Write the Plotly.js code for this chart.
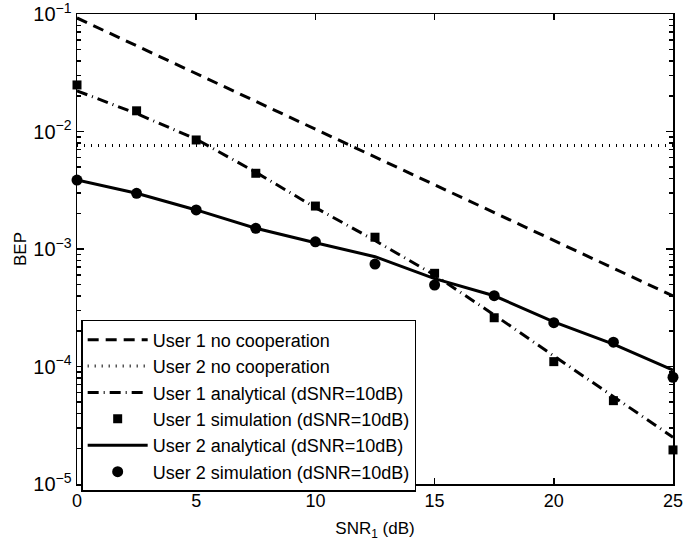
<!DOCTYPE html>
<html>
<head>
<meta charset="utf-8">
<script src="https://cdn.plot.ly/plotly-3.0.1.min.js"></script>
<style>html,body{margin:0;padding:0;background:#fff;}#plot{width:684px;height:543px;}</style>
</head>
<body>
<div id="plot"></div>
<script>
// SNR values (dB)
const snr = [0, 2.5, 5, 7.5, 10, 12.5, 15, 17.5, 20, 22.5, 25];
const user1NoCoop = [0.0925, 0.0536, 0.0311, 0.0180, 0.01047, 0.00607, 0.00352, 0.00204, 0.00119, 0.000687, 0.000398];
const user2NoCoop = [0.0076, 0.0076, 0.0076, 0.0076, 0.0076, 0.0076, 0.0076, 0.0076, 0.0076, 0.0076, 0.0076];
const user1Analytical = [0.0222, 0.0142, 0.0086, 0.0045, 0.00225, 0.00118, 0.000600, 0.000275, 0.000123, 0.000055, 0.000025];
const user1Simulation = [0.0249, 0.0150, 0.00847, 0.00441, 0.00232, 0.00126, 0.000621, 0.000260, 0.000110, 0.0000512, 0.0000195];
const user2Analytical = [0.00386, 0.00298, 0.00215, 0.00150, 0.00113, 0.00086, 0.00056, 0.000400, 0.000240, 0.000155, 0.000093];
const user2Simulation = [0.00386, 0.00298, 0.00215, 0.00150, 0.00115, 0.000745, 0.000494, 0.000401, 0.000236, 0.000161, 0.000081];
const names = [
  'User 1 no cooperation',
  'User 2 no cooperation',
  'User 1 analytical (dSNR=10dB)',
  'User 1 simulation (dSNR=10dB)',
  'User 2 analytical (dSNR=10dB)',
  'User 2 simulation (dSNR=10dB)'
];
const xTicks = [0, 5, 10, 15, 20, 25];
const yTickVals = [1e-5, 1e-4, 1e-3, 1e-2, 1e-1];
const yTickText = ['10<sup>−5</sup>', '10<sup>−4</sup>', '10<sup>−3</sup>', '10<sup>−2</sup>', '10<sup>−1</sup>'];
const decades = [1e-5, 1e-4, 1e-3, 1e-2];
const minorMultipliers = [2, 3, 4, 5, 6, 7, 8, 9];
const yMinorVals = [];
decades.forEach(d => minorMultipliers.forEach(m => yMinorVals.push(m * d)));

const traces = [
  {x: snr, y: user1NoCoop, name: names[0], mode: 'lines', line: {color: '#000', width: 3, dash: '11px,7px'}},
  {x: snr, y: user2NoCoop, name: names[1], mode: 'lines', yaxis: 'y2', line: {color: '#000', width: 3, dash: '1px,6px'}},
  {x: snr, y: user1Analytical, name: names[2], mode: 'lines', line: {color: '#000', width: 3, dash: '11px,5px,1px,5px'}},
  {x: snr, y: user1Simulation, name: names[3], mode: 'markers', marker: {symbol: 'square', size: 9, color: '#000'}, cliponaxis: false},
  {x: snr, y: user2Analytical, name: names[4], mode: 'lines', line: {color: '#000', width: 3}},
  {x: snr, y: user2Simulation, name: names[5], mode: 'markers', marker: {symbol: 'circle', size: 11, color: '#000'}, cliponaxis: false}
];

const layout = {
  width: 684, height: 543,
  margin: {l: 77, r: 11, t: 14, b: 59},
  paper_bgcolor: '#fff', plot_bgcolor: '#fff',
  font: {family: 'Liberation Sans, Arial, sans-serif', size: 17, color: '#000'},
  showlegend: true,
  legend: {
    x: 0.007, y: 0.349, xanchor: 'left', yanchor: 'top',
    bgcolor: '#fff', bordercolor: '#000', borderwidth: 1.5,
    font: {size: 18, color: '#000'},
    itemwidth: 60, tracegroupgap: 0, traceorder: 'normal'
  },
  xaxis: {
    range: [0, 25], tickvals: xTicks, ticks: 'inside', ticklen: 6, tickwidth: 1.5, tickcolor: '#000',
    showline: true, linecolor: '#000', linewidth: 1.5, mirror: 'ticks', showgrid: false, zeroline: false,
    title: {text: 'SNR<sub>1</sub> (dB)', font: {size: 17}, standoff: 12},
    tickfont: {size: 18}, ticklabeloverflow: 'allow'
  },
  yaxis: {
    type: 'log', range: [-5, -1], tickvals: yTickVals, ticktext: yTickText,
    ticks: 'inside', ticklen: 7, tickwidth: 1.5, tickcolor: '#000',
    showline: true, linecolor: '#000', linewidth: 1.5, mirror: 'ticks', showgrid: false, zeroline: false,
    title: {text: 'BEP', font: {size: 17}, standoff: 2},
    tickfont: {size: 20}, ticklabeloverflow: 'allow'
  },
  yaxis2: {
    type: 'log', range: [-5, -1], overlaying: 'y', side: 'left',
    tickvals: yMinorVals, showticklabels: false,
    ticks: 'inside', ticklen: 4, tickwidth: 1.5, tickcolor: '#000',
    showline: false, mirror: 'ticks', showgrid: false, zeroline: false
  }
};

Plotly.newPlot('plot', traces, layout, {displayModeBar: false, staticPlot: true});
</script>
</body>
</html>
